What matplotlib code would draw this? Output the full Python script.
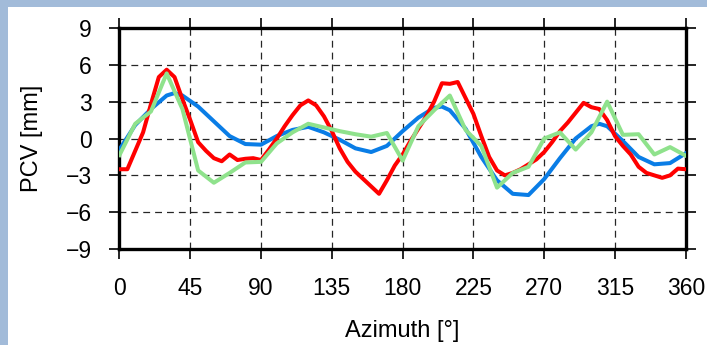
import numpy as np
import matplotlib
matplotlib.use("Agg")
import matplotlib.pyplot as plt
from matplotlib.patches import Rectangle

plt.rcParams['font.family'] = ['Liberation Sans', 'DejaVu Sans']

# --- data (azimuth in degrees, PCV in mm) ---
az_blue = [0, 10, 20, 30, 35, 40, 50, 60, 70, 80, 90, 100, 110, 120, 130, 140,
           150, 160, 170, 180, 190, 200, 205, 210, 220, 230, 240, 250, 260, 270,
           280, 290, 300, 305, 310, 320, 330, 340, 350, 360]
pcv_blue = [-0.9, 1.1, 2.4, 3.5, 3.7, 3.5, 2.6, 1.4, 0.2, -0.45, -0.5, 0.2, 0.7,
            0.95, 0.5, -0.1, -0.8, -1.1, -0.6, 0.6, 1.7, 2.5, 2.6, 2.3, 0.8,
            -1.5, -3.4, -4.5, -4.6, -3.3, -1.6, 0.0, 1.0, 1.2, 1.0, -0.2, -1.5,
            -2.1, -2.0, -1.2]

az_red = list(range(0, 365, 5))
pcv_red = [-2.5, -2.5, -1.0, 0.5, 2.8, 5.0, 5.6, 5.0, 3.2, 1.5, -0.3, -1.0, -1.6,
           -1.85, -1.3, -1.75, -1.65, -1.6, -1.75, -0.9, 0.0, 1.0, 1.9, 2.7, 3.1,
           2.7, 1.8, 0.6, -0.8, -1.9, -2.7, -3.3, -3.9, -4.5, -3.4, -2.2, -1.3,
           -0.2, 0.8, 1.8, 3.0, 4.5, 4.45, 4.6, 3.3, 2.0, 0.2, -1.5, -2.6, -3.0,
           -2.8, -2.5, -2.1, -1.7, -1.1, -0.3, 0.6, 1.3, 2.1, 2.9, 2.55, 2.4, 1.5,
           0.2, -0.6, -1.3, -2.3, -2.8, -3.0, -3.2, -3.0, -2.45, -2.5]

az_green = list(range(0, 370, 10))
pcv_green = [-1.35, 1.2, 2.2, 5.3, 2.4, -2.6, -3.6, -2.8, -1.95, -1.9, -0.4, 0.5,
             1.2, 0.9, 0.6, 0.35, 0.15, 0.45, -1.8, 1.0, 2.3, 3.5, 0.7, -0.6,
             -4.0, -2.8, -2.3, 0.0, 0.5, -0.9, 0.5, 3.0, 0.3, 0.35, -1.3, -0.7,
             -1.4]

xticks = [0, 45, 90, 135, 180, 225, 270, 315, 360]
yticks = [-9, -6, -3, 0, 3, 6, 9]

fig = plt.figure(figsize=(7.07, 3.45), dpi=100, facecolor='#a2bbd9')
# white panel, leaving a blue strip on the left and top
fig.patches.append(Rectangle((8 / 707, 0), 1, 1 - 7 / 345, transform=fig.transFigure,
                             facecolor='white', edgecolor='none', zorder=-5))
ax = fig.add_axes([0.169, 0.278, 0.801, 0.641])
ax.set_zorder(2)

ax.plot(az_blue, pcv_blue, color='#0a7de6', lw=2.9, zorder=3)
ax.plot(az_red, pcv_red, color='#ff0000', lw=2.9, zorder=4)
ax.plot(az_green, pcv_green, color='#8fe28c', lw=2.9, zorder=5)

ax.set_xlim(0, 360)
ax.set_ylim(-9, 9)
ax.set_xticks(xticks)
ax.set_yticks(yticks)
ax.grid(True, color='k', lw=0.9, linestyle=(0, (5.5, 4)), alpha=0.85)
ax.set_axisbelow(True)
for s in ax.spines.values():
    s.set_linewidth(2.4)
ax.tick_params(which='both', direction='out', length=7, width=1.2, top=True,
               right=True, labelsize=16.5, pad=13)

ax.set_xlabel('Azimuth [°]', fontsize=17)
ax.set_ylabel('PCV [mm]', fontsize=17)
ax.xaxis.set_label_coords(0.5, -0.322)
ax.yaxis.set_label_coords(-0.135, 0.5)

fig.savefig('out.png', dpi=100, facecolor=fig.get_facecolor())
